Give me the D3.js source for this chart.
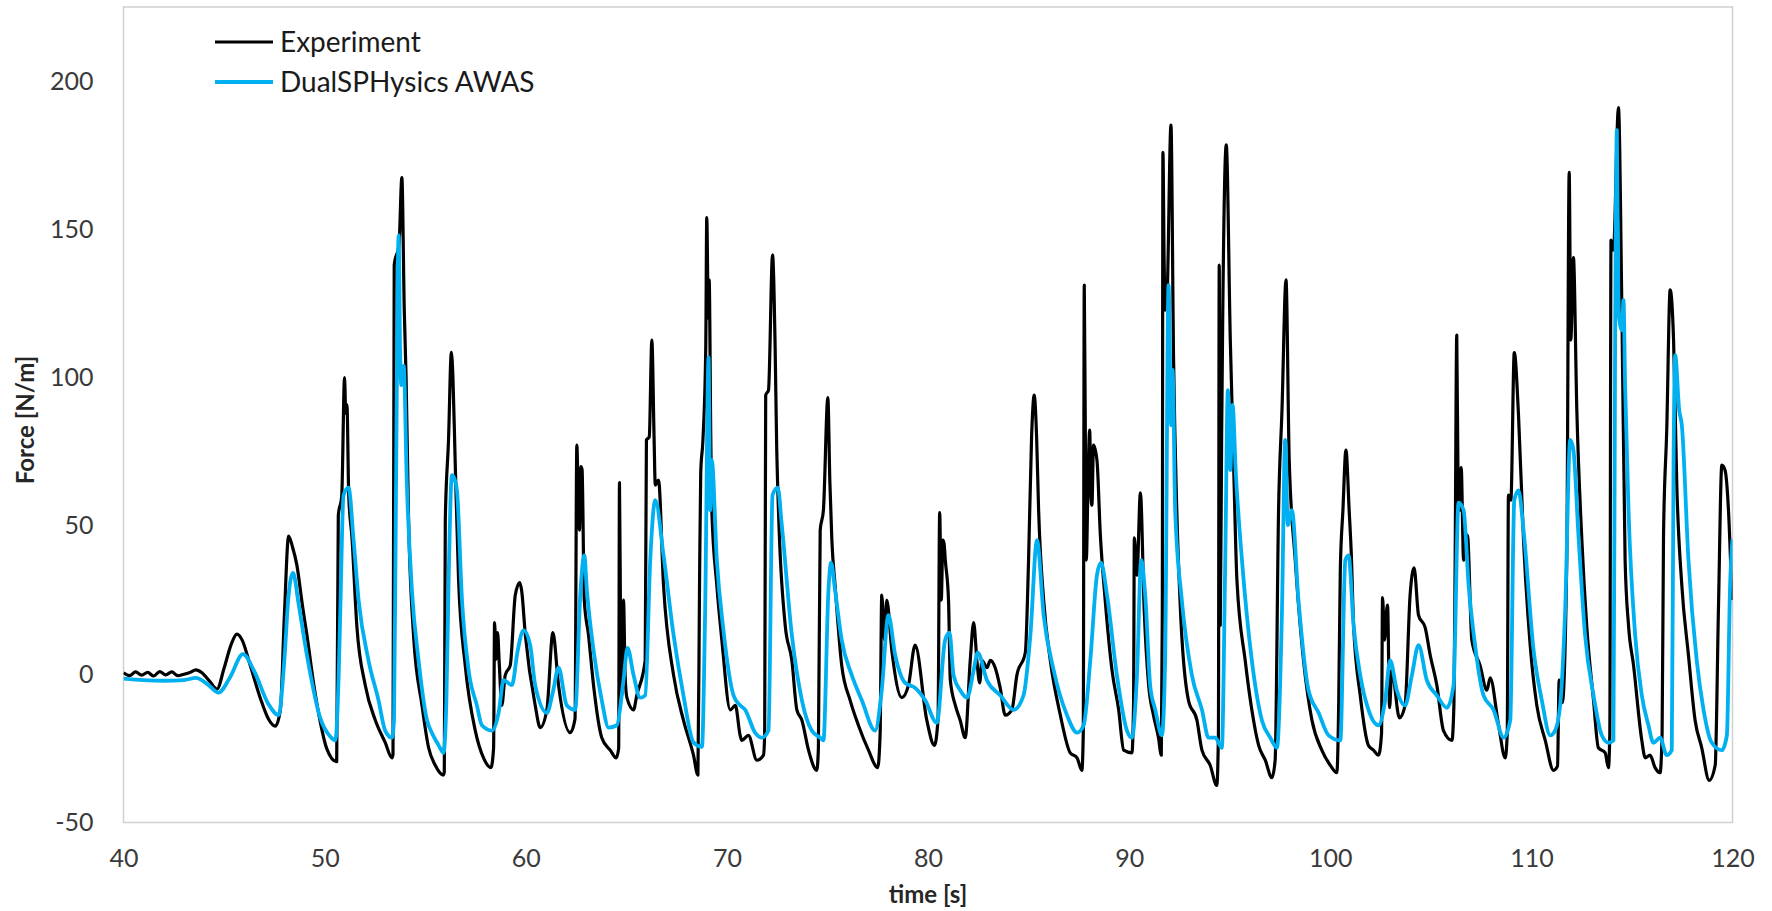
<!DOCTYPE html>
<html>
<head>
<meta charset="utf-8">
<script src="https://cdn.jsdelivr.net/npm/d3@7"></script>
<style>
  html, body { margin: 0; padding: 0; background: #fff; }
  svg { display: block; }
  text { font-family: Lato, "Open Sans", sans-serif; }
</style>
</head>
<body>
<svg id="chart" width="1772" height="911"></svg>
<script>
// Measured force on the structure: experiment vs. DualSPHysics AWAS run
const expTime = [
  40.0, 40.3, 40.6, 40.9, 41.2, 41.5, 41.8, 42.1, 42.4, 42.7, 43.0, 43.3, 43.6, 43.9, 44.3, 44.65,
  45.0, 45.35, 45.64, 45.9, 46.3, 46.8, 47.2, 47.55, 47.8, 48.0, 48.21, 48.4, 48.62, 48.9, 49.12,
  49.45, 49.78, 50.1, 50.6, 50.68, 50.85, 50.99, 51.05, 51.11, 51.2, 51.36, 51.6, 52.02, 52.52,
  53.01, 53.35, 53.4, 53.46, 53.7, 53.84, 53.96, 54.05, 54.17, 54.42, 54.84, 55.17, 55.5, 55.9,
  55.95, 56.0, 56.16, 56.3, 56.38, 56.49, 56.66, 56.99, 57.49, 57.9, 58.27, 58.4, 58.45, 58.52,
  58.6, 58.68, 58.81, 58.98, 59.23, 59.48, 59.7, 59.8, 59.98, 60.47, 60.72, 61.05, 61.35, 61.63,
  62.21, 62.45, 62.54, 62.62, 62.67, 62.74, 62.8, 62.91, 63.12, 63.37, 63.78, 64.2, 64.5, 64.62,
  64.66, 64.72, 64.78, 64.86, 64.94, 65.03, 65.36, 65.52, 65.94, 66.0, 66.14, 66.27, 66.38, 66.44,
  66.6, 66.85, 67.35, 67.84, 68.34, 68.56, 68.64, 68.7, 68.81, 68.95, 69.0, 69.08, 69.12, 69.2,
  69.25, 69.5, 69.75, 70.17, 70.42, 70.66, 70.74, 71.07, 71.49, 71.82, 71.88, 71.93, 72.07, 72.27,
  72.4, 72.48, 72.9, 73.23, 73.48, 73.73, 74.06, 74.47, 74.55, 74.64, 74.8, 75.02, 75.12, 75.22,
  75.38, 75.71, 76.13, 76.54, 77.04, 77.5, 77.62, 77.7, 77.84, 77.95, 78.2, 78.7, 79.03, 79.36,
  79.94, 80.32, 80.5, 80.58, 80.66, 80.74, 80.8, 80.86, 81.02, 81.11, 81.36, 81.6, 81.85, 82.1,
  82.27, 82.43, 82.57, 82.68, 82.93, 83.1, 83.34, 83.59, 83.84, 84.17, 84.42, 84.84, 85.0, 85.15,
  85.28, 85.4, 85.5, 85.75, 86.08, 86.58, 87.07, 87.41, 87.65, 87.72, 87.77, 87.84, 87.87, 87.97,
  88.04, 88.1, 88.15, 88.23, 88.4, 88.57, 88.81, 89.15, 89.48, 89.73, 90.14, 90.22, 90.26, 90.39,
  90.56, 90.75, 90.97, 91.21, 91.46, 91.6, 91.65, 91.68, 91.74, 91.79, 91.88, 92.08, 92.21, 92.37,
  92.54, 92.95, 93.37, 93.62, 94.03, 94.36, 94.44, 94.48, 94.53, 94.6, 94.65, 94.83, 95.03, 95.19,
  95.36, 95.77, 96.1, 96.44, 96.77, 97.1, 97.26, 97.43, 97.6, 97.8, 97.96, 98.26, 98.67, 99.09,
  99.58, 100.0, 100.33, 100.42, 100.5, 100.63, 100.78, 100.94, 101.05, 101.16, 101.49, 101.9,
  102.15, 102.4, 102.55, 102.6, 102.7, 102.78, 102.85, 102.95, 103.06, 103.44, 103.72, 103.97,
  104.17, 104.39, 104.72, 104.97, 105.3, 105.63, 106.05, 106.15, 106.21, 106.29, 106.36, 106.43,
  106.51, 106.63, 106.82, 107.04, 107.45, 107.79, 107.95, 108.37, 108.7, 108.8, 108.86, 108.98,
  109.15, 109.36, 109.61, 109.94, 110.27, 110.69, 111.1, 111.3, 111.38, 111.54, 111.76, 111.88,
  111.96, 112.09, 112.26, 112.51, 112.75, 113.09, 113.33, 113.67, 113.83, 113.9, 113.96, 114.08,
  114.33, 114.5, 114.66, 114.83, 115.08, 115.49, 115.66, 115.9, 116.15, 116.4, 116.5, 116.57,
  116.73, 116.9, 117.07, 117.23, 117.48, 117.81, 118.14, 118.47, 118.84, 119.14, 119.3, 119.47,
  119.63, 119.8, 119.97
];
const expForce = [
  0.5, -0.5, 0.8, -0.3, 0.6, -0.6, 0.9, -0.2, 0.8, -0.5, 0.0, 0.6, 1.5, 0.5, -2.5, -5.0,
  2.0, 10.0, 13.5, 11.5, 3.0, -8.0, -15.0, -17.5, -12.0, 20.0, 46.6, 43.0, 36.8, 23.0, 13.2,
  -3.0, -16.0, -25.0, -29.5, 53.6, 60.0, 100.0, 88.0, 90.8, 60.0, 46.0, 16.5, -3.7, -15.5,
  -23.0, -28.2, -27.0, 138.0, 145.0, 167.5, 122.8, 100.0, 53.6, 13.2, -10.5, -24.8, -30.7, -34.0,
  -33.0, 52.0, 79.0, 108.5, 100.0, 72.0, 31.7, 3.0, -19.0, -28.2, -31.5, -25.0, 17.4, 5.0,
  14.0, 4.0, -10.5, -0.3, 3.0, 26.7, 30.9, 28.0, 13.2, -10.5, -18.0, -12.0, 14.0, -3.7,
  -19.7, -15.0, 77.3, 55.0, 48.6, 70.0, 69.0, 25.0, 13.2, -3.7, -21.4, -25.6, -28.2, -25.0,
  64.6, 10.0, -7.1, 25.0, 0.0, -7.9, -12.0, -7.1, 4.7, 79.0, 80.0, 112.7, 80.0, 63.8,
  65.5, 30.0, -0.3, -15.5, -27.3, -34.0, 30.0, 68.0, 79.0, 110.0, 154.0, 120.0, 133.0, 80.0,
  55.3, 30.0, 11.5, -12.0, -10.5, -20.6, -22.3, -20.6, -29.0, -27.3, -20.0, 94.1, 95.8, 141.4,
  110.0, 75.6, 16.5, 4.7, -12.0, -15.5, -25.6, -32.4, -25.0, 48.6, 55.3, 93.3, 65.0, 45.2,
  30.0, 3.0, -8.8, -17.2, -25.6, -31.5, -20.0, 26.7, 11.5, 25.0, 8.1, -7.9, -3.7, 9.8,
  -15.5, -24.0, -15.0, 54.5, 25.0, 45.2, 44.0, 38.5, 25.0, -2.0, -10.5, -15.5, -21.4, 4.7,
  17.4, 4.7, -2.9, 4.7, 2.2, 4.7, 2.2, -4.6, -13.8, -12.0, -0.3, 7.3, 38.5, 80.0,
  94.1, 80.0, 55.3, 25.0, 4.7, -13.8, -26.5, -28.2, -32.4, -20.0, 131.2, 60.0, 38.5, 70.0,
  82.3, 60.0, 57.0, 77.3, 72.2, 46.9, 25.0, 1.3, -12.0, -25.6, -26.5, -10.0, 46.0, 33.4,
  61.2, 21.6, -3.7, -13.8, -21.4, -27.3, 20.0, 176.0, 140.0, 122.8, 126.0, 185.2, 106.0, 55.3,
  23.3, -8.8, -15.5, -25.6, -30.7, -37.5, -20.0, 138.0, 16.5, 80.0, 117.8, 178.5, 112.7, 72.2,
  31.7, 4.7, -12.0, -24.0, -29.0, -34.9, -29.0, 55.3, 89.0, 133.0, 72.2, 38.5, 4.7, -15.5,
  -25.6, -30.7, -33.2, -10.0, 35.1, 55.3, 75.6, 55.3, 40.0, 16.5, -7.1, -24.0,
  -25.6, -27.3, -20.0, 25.8, 11.5, 20.0, 23.3, -11.3, 1.3, -14.7, -10.5, 26.7,
  35.9, 19.9, 15.7, 6.4, -3.7, -19.0, -22.3, -10.0, 38.5, 114.4, 60.0, 55.3,
  69.7, 38.5, 46.9, 11.5, 3.0, -5.4, -1.2, -17.2, -28.2, -20.0, 60.4, 58.7,
  108.5, 87.4, 45.2, 9.8, -10.5, -22.3, -32.4, -31.0, -2.0, -9.6, 38.5, 169.2,
  112.7, 140.5, 89.0, 45.2, 16.5, -8.8, -24.8, -26.5, -31.5, -20.0, 146.4, 143.0,
  191.1, 122.8, 38.5, 16.5, 3.0, -22.3, -28.2, -27.3, -31.5, -33.2, -20.0, 46.9,
  82.3, 129.6, 112.7, 63.8, 30.0, 6.4, -15.5, -24.8, -35.8, -30.7, 21.6, 70.5,
  68.8, 55.3, 25.0
];

const simTime = [
  40.0, 41.0, 42.0, 43.0, 43.6, 44.2, 44.73, 45.3, 45.94, 46.5, 47.2, 47.71, 48.0, 48.2, 48.43,
  48.7, 49.12, 49.78, 50.28, 50.53, 50.7, 50.78, 50.94, 51.19, 51.44, 51.69, 52.18, 52.68, 53.01,
  53.35, 53.45, 53.54, 53.68, 53.75, 53.81, 53.93, 54.09, 54.34, 54.67, 55.09, 55.33, 55.67, 55.91,
  56.05, 56.16, 56.33, 56.45, 56.58, 56.83, 57.16, 57.57, 57.82, 58.32, 58.65, 58.9, 59.31, 59.6,
  59.89, 60.22, 60.47, 61.05, 61.35, 61.63, 62.04, 62.46, 62.71, 62.91, 63.04, 63.37, 63.78, 64.12,
  64.53, 64.86, 65.06, 65.36, 65.69, 65.94, 66.19, 66.44, 66.85, 67.35, 67.84, 68.34, 68.76, 68.92,
  69.09, 69.17, 69.25, 69.5, 69.83, 70.33, 70.66, 70.91, 71.4, 71.74, 72.07, 72.27, 72.53, 72.73,
  73.23, 73.73, 74.22, 74.64, 74.8, 75.05, 75.18, 75.38, 75.71, 76.21, 76.71, 77.37, 77.7, 78.03,
  78.37, 78.86, 79.36, 79.86, 80.44, 80.85, 81.07, 81.27, 81.6, 81.94, 82.27, 82.47, 82.93, 83.59,
  84.26, 84.75, 85.09, 85.42, 85.75, 86.25, 86.91, 87.41, 87.74, 88.07, 88.4, 88.6, 88.9, 89.39,
  89.89, 90.14, 90.39, 90.6, 90.8, 91.05, 91.3, 91.63, 91.79, 91.96, 92.09, 92.16, 92.29, 92.62,
  93.12, 93.62, 93.95, 94.28, 94.61, 94.78, 94.91, 95.03, 95.14, 95.31, 95.61, 96.1, 96.6, 97.02,
  97.35, 97.6, 97.76, 97.89, 98.09, 98.42, 98.92, 99.42, 99.92, 100.5, 100.75, 100.91, 101.16,
  101.49, 101.9, 102.4, 102.73, 102.98, 103.31, 103.72, 104.06, 104.39, 104.8, 105.3, 105.8,
  106.13, 106.38, 106.63, 106.88, 107.2, 107.62, 108.12, 108.62, 108.95, 109.15, 109.36, 109.61,
  110.11, 110.52, 110.94, 111.18, 111.43, 111.68, 111.93, 112.09, 112.34, 112.67, 113.09, 113.5,
  113.83, 114.08, 114.16, 114.25, 114.33, 114.5, 114.58, 114.66, 114.83, 115.16, 115.49, 115.82,
  116.07, 116.4, 116.73, 116.98, 117.07, 117.15, 117.35, 117.48, 117.81, 118.22, 118.56, 118.97,
  119.47, 119.72, 119.88, 120.0
];
const simForce = [
  -1.5, -2.0, -2.2, -2.0, -1.2, -3.5, -6.2, -1.0, 6.8, 1.0, -10.0, -13.8, 5.0, 26.0, 34.2,
  24.0, 6.4, -14.7, -21.0, -22.3, 0.0, 21.6, 60.4, 62.9, 45.2, 25.0, 4.7, -8.8, -19.0,
  -21.4, -15.0, 55.0, 148.0, 110.0, 97.5, 104.0, 63.8, 28.3, 4.7, -15.5, -19.7, -24.0, -26.5,
  -10.0, 30.0, 67.1, 66.0, 62.0, 25.0, 1.3, -10.5, -17.2, -19.0, -13.0, -2.0, -3.7, 8.0,
  14.8, 9.8, -3.7, -13.0, -6.0, 2.2, -10.5, -12.0, 26.7, 40.1, 28.3, 8.1, -8.8, -18.0,
  -17.2, -2.0, 8.9, -0.3, -7.9, -7.1, 38.5, 58.7, 40.1, 13.2, -7.1, -23.0, -24.5, 21.6,
  106.8, 55.3, 72.2, 38.5, 14.8, -7.1, -10.5, -12.0, -19.7, -21.4, -19.0, 60.4, 62.9, 50.3,
  13.2, -8.8, -19.0, -21.4, -22.3, 28.3, 37.6, 28.3, 11.5, -0.3, -8.8, -19.0, -5.4, 19.9,
  6.4, -2.9, -4.6, -8.8, -16.4, 11.5, 14.0, -0.3, -5.4, -7.9, 1.3, 7.3, -2.0, -7.1,
  -12.0, -7.1, 13.2, 45.2, 19.9, 1.3, -13.8, -19.7, -17.2, 4.7, 33.4, 37.6, 26.7, -0.3,
  -19.0, -21.4, -0.3, 38.5, 26.7, -4.0, -12.0, -20.6, 4.7, 131.2, 84.0, 102.6, 55.3, 25.0,
  -0.3, -12.0, -21.4, -21.4, -24.8, 38.5, 95.8, 68.8, 90.8, 67.1, 38.5, 4.7, -15.5, -21.4,
  -24.8, 21.6, 79.0, 50.3, 55.3, 25.0, -5.4, -13.0, -20.6, -22.3, 38.5, 40.1, 16.5,
  -0.3, -12.0, -17.2, -8.8, 4.7, -5.4, -10.5, -0.3, 9.8, -2.0, -7.1, -11.3,
  -3.7, 57.9, 55.3, 30.0, 9.8, -7.1, -12.0, -21.4, -15.5, 58.7, 62.0, 48.6,
  8.1, -8.8, -20.6, -19.0, -10.5, 21.6, 79.0, 75.6, 46.9, 13.2, -7.1, -20.6,
  -23.1, -22.3, 105.9, 183.5, 122.8, 116.0, 126.2, 97.5, 55.3, 13.2, -7.1, -17.2,
  -23.1, -21.4, -27.3, -25.6, 72.2, 107.6, 89.0, 84.0, 38.5, 4.7, -12.0, -23.1,
  -25.6, -20.6, 30.0, 45.5
];

const xTicks = [40, 50, 60, 70, 80, 90, 100, 110, 120];
const yTicks = [-50, 0, 50, 100, 150, 200];
const seriesNames = ["Experiment", "DualSPHysics AWAS"];
const seriesColors = ["#000000", "#00b0f0"];
const seriesWidths = [3.2, 3.8];

const svg = d3.select("#chart");
const plot = { left: 123.5, right: 1732.5, top: 7, bottom: 822.5 };

const x = d3.scaleLinear().domain([40, 120]).range([plot.left, plot.right]);
const y = d3.scaleLinear().domain([-50, 225]).range([plot.bottom, plot.top]);

// plot frame
svg.append("rect")
  .attr("x", plot.left).attr("y", plot.top)
  .attr("width", plot.right - plot.left).attr("height", plot.bottom - plot.top)
  .attr("fill", "none").attr("stroke", "#d0d0d0").attr("stroke-width", 1.5);

// axes (labels only, no tick marks); plain hyphen for negatives
const plain = d => String(d);
const xAxis = svg.append("g")
  .attr("transform", `translate(0,${plot.bottom})`)
  .call(d3.axisBottom(x).tickValues(xTicks).tickFormat(plain).tickSize(0).tickPadding(27));
const yAxis = svg.append("g")
  .attr("transform", `translate(${plot.left},0)`)
  .call(d3.axisLeft(y).tickValues(yTicks).tickFormat(plain).tickSize(0).tickPadding(30));
[xAxis, yAxis].forEach(g => {
  g.select(".domain").remove();
  g.selectAll("text")
    .attr("font-family", "Lato, 'Open Sans', sans-serif")
    .attr("font-size", 25).attr("fill", "#3a3a3a");
});

// axis titles
svg.append("text")
  .attr("x", 928).attr("y", 903)
  .attr("text-anchor", "middle")
  .attr("font-size", 24).attr("font-weight", "bold").attr("fill", "#262626")
  .text("time [s]");
svg.append("text")
  .attr("transform", "translate(34,420) rotate(-90)")
  .attr("text-anchor", "middle")
  .attr("font-size", 24).attr("font-weight", "bold").attr("fill", "#262626")
  .text("Force [N/m]");

// series
svg.append("clipPath").attr("id", "plotclip")
  .append("rect")
  .attr("x", plot.left).attr("y", plot.top)
  .attr("width", plot.right - plot.left).attr("height", plot.bottom - plot.top);

const line = d3.line()
  .x(d => x(d[0]))
  .y(d => y(d[1]))
  .curve(d3.curveMonotoneX);

const expData = expTime.map((t, i) => [t, expForce[i]]);
const simData = simTime.map((t, i) => [t, simForce[i]]);

const lines = svg.append("g").attr("clip-path", "url(#plotclip)");
[expData, simData].forEach((data, i) => {
  lines.append("path")
    .datum(data)
    .attr("fill", "none")
    .attr("stroke", seriesColors[i])
    .attr("stroke-width", seriesWidths[i])
    .attr("stroke-linejoin", "round")
    .attr("d", line);
});

// legend
const legend = svg.append("g");
seriesNames.forEach((name, i) => {
  const ly = 42 + i * 40;
  legend.append("line")
    .attr("x1", 215).attr("x2", 273)
    .attr("y1", ly).attr("y2", ly)
    .attr("stroke", seriesColors[i])
    .attr("stroke-width", seriesWidths[i]);
  legend.append("text")
    .attr("x", 280).attr("y", ly)
    .attr("dy", "0.35em")
    .attr("font-size", 28).attr("fill", "#1a1a1a")
    .text(name);
});
</script>
</body>
</html>
